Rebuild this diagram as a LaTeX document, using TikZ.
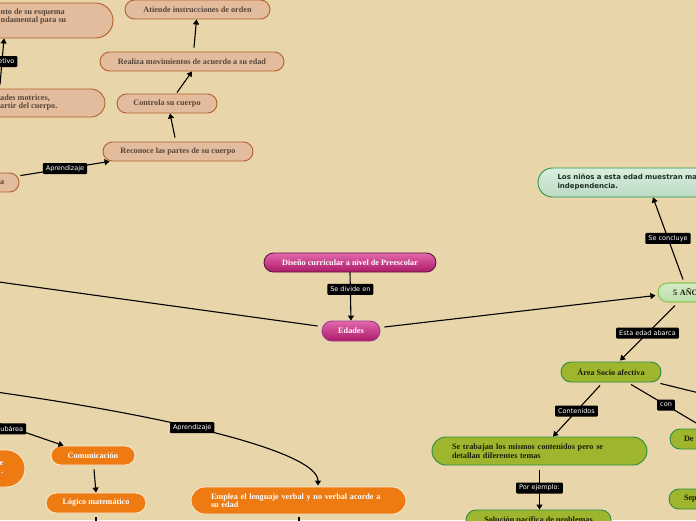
\documentclass[tikz,border=0pt]{standalone}
\usepackage{fontspec}
\setmainfont{Liberation Serif}
\newfontfamily\labfont{DejaVu Sans}
\usetikzlibrary{arrows.meta,calc}
\definecolor{bgc}{RGB}{232,213,169}
\definecolor{peachF}{RGB}{226,188,156}
\definecolor{peachD}{RGB}{178,96,46}
\definecolor{peachT}{RGB}{88,70,58}
\definecolor{magT}{RGB}{226,104,172}
\definecolor{magB}{RGB}{172,26,104}
\definecolor{magD}{RGB}{92,22,62}
\definecolor{magE}{RGB}{150,60,150}
\definecolor{lgF}{RGB}{214,234,198}
\definecolor{lgB}{RGB}{188,222,170}
\definecolor{lgD}{RGB}{140,198,80}
\definecolor{pgT}{RGB}{218,238,222}
\definecolor{pgB}{RGB}{188,218,196}
\definecolor{pgD}{RGB}{44,150,72}
\definecolor{pgX}{RGB}{30,48,34}
\definecolor{olF}{RGB}{157,182,46}
\definecolor{olD}{RGB}{44,140,70}
\definecolor{olT}{RGB}{28,30,10}
\definecolor{orF}{RGB}{238,122,18}
\definecolor{orD}{RGB}{250,232,205}
\tikzset{
  txt/.style={font=\bfseries\fontsize{8.2}{8.6}\selectfont},
  box/.style={txt, draw, line width=0.9pt, inner sep=0pt},
  pill/.style={minimum height=#1pt, rounded corners={#1pt/2}},
  peach/.style={box, fill=peachF, draw=peachD, text=peachT},
  peachtxt/.style={txt, text=peachT, inner sep=0pt, align=left},
  mag/.style={box, top color=magT, bottom color=magB, draw=magD, text=white},
  lgreen/.style={box, top color=lgF, bottom color=lgB, draw=lgD, line width=1.1pt, text=olT},
  pgreen/.style={box, top color=pgT, bottom color=pgB, draw=pgD, text=pgX,
     font=\labfont\bfseries\fontsize{7}{9}\selectfont},
  olive/.style={box, fill=olF, draw=olD, text=olT},
  orng/.style={box, fill=orF, draw=orD, text=white},
  orngtxt/.style={txt, text=white, inner sep=0pt},
  lab/.style={fill=black, text=white, font=\labfont\fontsize{6.5}{7.5}\selectfont,
     inner xsep=3pt, inner ysep=2pt, rounded corners=1pt, minimum height=11pt},
  ln/.style={line width=1.1pt},
  arr/.style={line width=1.1pt, -{Triangle[length=5pt,width=6pt]}}
}
\begin{document}
\begin{tikzpicture}[x=1pt,y=-1pt]
\useasboundingbox (0,0) rectangle (696,520);
\fill[bgc] (0,0) rectangle (696,520);
\clip (0,0) rectangle (696,520);

% top-left peach nodes
\node[peach, pill=35, minimum width=193pt] (n1) at (16.5,20.5) {};
\node[peachtxt, anchor=west] (n1t) at (0.5,16.5) {nto de su esquema\\ndamental para su};
\node[peach, pill=19, minimum width=145pt] (n2) at (197.5,9.5) {Atiende instrucciones de orden};
\node[peach, pill=19, minimum width=184pt] (n3) at (192,61.5) {Realiza movimientos de acuerdo a su edad};
\node[peach, pill=19, minimum width=100pt] (n4) at (167,103.5) {Controla su cuerpo};
\node[peach, pill=19, minimum width=150pt] (n5) at (178,151.5) {Reconoce las partes de su cuerpo};
\node[peach, pill=28, minimum width=185pt] (n6) at (12.5,103) {};
\node[peachtxt, anchor=west] (n6t) at (0,102.5) {ades motrices,\\artir del cuerpo.};
\node[peach, pill=19, minimum width=79pt] (n7) at (-20.5,182.5) {};
\node[peachtxt, anchor=east] (n7t) at (4.5,183) {a};

% centre
\node[mag, pill=19, minimum width=172pt] (dis) at (350,262.5) {Diseño curricular a nivel de Preescolar};
\node[mag, draw=magE, pill=20, minimum width=58pt] (eda) at (351,331) {Edades};

% right
\node[lgreen, pill=19, minimum width=64pt, inner xsep=15pt, text width=34pt, align=left] (a5) at (690,292.5) {5 AÑOS};
\node[pgreen, pill=29, minimum width=322pt, inner xsep=19.5pt, text width=283pt, align=left] (los) at (699,182.5)
  {Los niños a esta edad muestran mayor\\independencia.};
\node[olive, pill=20, minimum width=100pt] (soc) at (611,372) {Área Socio afectiva};
\node[olive, pill=28, minimum width=215pt, inner xsep=20pt, text width=175pt, align=left] (tra) at (539.5,451)
  {Se trabajan los mismos contenidos pero se\\detallan diferentes temas};
\node[olive, pill=20, minimum width=100pt, inner xsep=14pt, text width=72pt, align=left] (de) at (720,439) {De};
\node[olive, pill=20, minimum width=100pt, inner xsep=15pt, text width=70pt, align=left] (sep) at (719,499) {Sep};
\node[olive, pill=20, minimum width=145pt] (sol) at (538.5,520) {Solución pacífica de problemas};

% bottom-left orange
\node[orng, pill=37, minimum width=85pt] (lc) at (-17.5,468.5) {};
\node[orngtxt, anchor=east, align=right] (lct) at (3.5,467.5) {e\\.};
\node[orng, pill=19, minimum width=84pt] (com) at (93,455.5) {Comunicación};
\node[orng, pill=20, minimum width=100pt] (log) at (96,503) {Lógico matemático};
\node[orng, pill=27, minimum width=215pt, inner xsep=20pt, text width=175pt, align=left] (emp) at (298.5,500.5)
  {Emplea el lenguaje verbal y no verbal acorde a\\su edad};

% off-picture ends
\coordinate (offL) at (-30,278);
\coordinate (offA) at (-80,382);
\coordinate (offSub) at (-40,410);
\coordinate (offR) at (760,408);
\coordinate (offLog) at (96,545);
\coordinate (offEmp) at (299,545);

% connectors, top-left
\draw[arr] ($(n7.north east)+(1,3)$) -- node[lab]{Aprendizaje} ($(n5.south west)+(7,0)$);
\draw[arr] ($(n5.north)+(-3,-4)$) -- ($(n4.south)+(3,0)$);
\draw[arr] ($(n4.north)+(10,-1)$) -- (n3.south);
\draw[arr] ($(n3.north)+(2,-4)$) -- ($(n2.south)+(-1,0)$);
\draw[arr] ($(n6.north)+(-12.5,-4)$) -- node[lab, anchor=east, xshift=16pt]{etivo} ($(n1.south)+(-12.5,0)$);

% centre
\draw[arr] (dis.south) -- node[lab, pos=0.35]{Se divide en} (eda.north);
\draw[ln] ($(eda.west)+(-4,-5)$) -- (offL);
\draw[arr] ($(eda.east)+(4,-4)$) -- ($(a5.west)+(-2,3)$);

% right
\draw[arr] ($(a5.north)+(-7,-3)$) -- node[lab]{Se concluye} ($(los.south)+(-46,0)$);
\draw[arr] ($(a5.south)+(-15,3)$) -- node[lab]{Esta edad abarca} ($(soc.north)+(9,-1)$);
\draw[arr] ($(soc.south)+(-11,3)$) -- node[lab]{Contenidos} ($(tra.north)+(13.5,0)$);
\draw[arr] ($(soc.south)+(20,2)$) -- node[lab, pos=0.47]{con} ($(de.north west)+(36,0)$);
\draw[ln] ($(soc.south east)+(-1,1)$) -- (offR);
\draw[arr] ($(tra.south)+(0,5)$) -- node[lab, pos=0.45]{Por ejemplo:} (tra.south |- sol.north);

% bottom-left
\draw[arr] (offSub) -- node[lab, pos=0.644, anchor=east, yshift=4pt]{Subárea} ($(com.north west)+(13,0)$);
\draw[arr] ($(com.south)+(1,4)$) -- (log.north);
\draw[ln] ($(log.south)+(0,4)$) -- (offLog);
\draw[arr] (offA) .. controls (150,410) and (318,450) .. node[lab, pos=0.47]{Aprendizaje} ($(emp.north)+(19.5,-1)$);
\draw[ln] ($(emp.south)+(0.5,3)$) -- (offEmp);
\end{tikzpicture}
\end{document}
